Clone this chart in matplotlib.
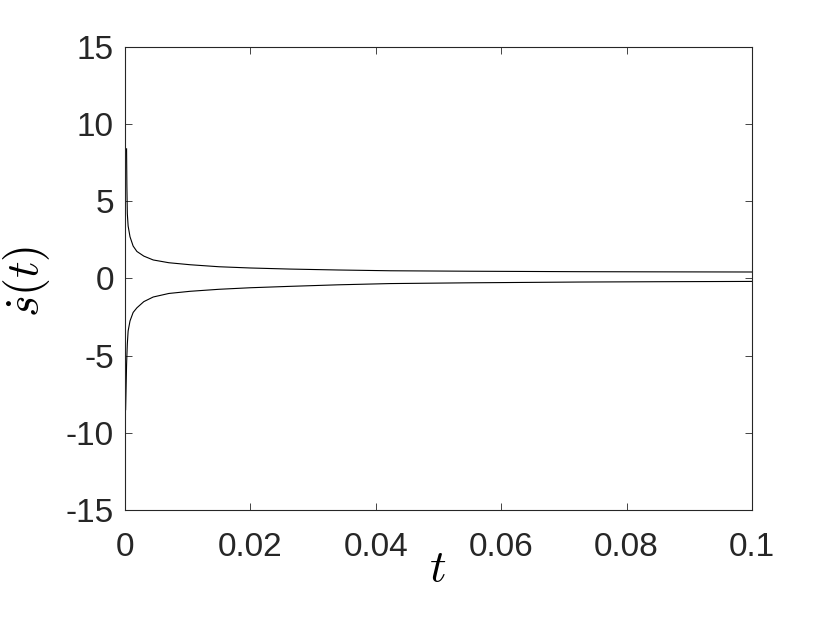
import matplotlib
matplotlib.use("Agg")
import matplotlib.pyplot as plt

t_up = [0.00025, 0.0003, 0.00037, 0.0005, 0.0008, 0.0013, 0.0019, 0.003,
        0.0045, 0.007, 0.0104, 0.015, 0.02, 0.0263, 0.034, 0.0423, 0.055,
        0.0726, 0.085, 0.1]
upper = [8.4, 6.0, 4.2, 3.4, 2.7, 2.1, 1.75, 1.45, 1.2, 1.02, 0.89, 0.76,
         0.68, 0.61, 0.55, 0.50, 0.47, 0.44, 0.43, 0.42]
t_low = [0.0001, 0.00025, 0.0003, 0.00037, 0.0005, 0.0008, 0.0013, 0.0019, 0.003,
         0.0045, 0.007, 0.0104, 0.015, 0.02, 0.0263, 0.034, 0.0423, 0.055,
         0.0726, 0.085, 0.1]
lower = [-8.5, -5.6, -5.0, -4.25, -3.4, -2.75, -2.2, -1.9, -1.5, -1.2, -0.97,
         -0.83, -0.7, -0.6, -0.51, -0.41, -0.33, -0.28, -0.23, -0.21, -0.19]

x_ticks = [0, 0.02, 0.04, 0.06, 0.08, 0.1]
x_tick_labels = ["0", "0.02", "0.04", "0.06", "0.08", "0.1"]
y_ticks = [-15, -10, -5, 0, 5, 10, 15]
y_tick_labels = ["-15", "-10", "-5", "0", "5", "10", "15"]

plt.rcParams["font.family"] = ["Liberation Sans", "DejaVu Sans"]
plt.rcParams["mathtext.fontset"] = "cm"

fig = plt.figure(figsize=(8.3, 6.23), dpi=100)
ax = fig.add_axes([0.1506, 0.1814, 0.7554, 0.7432])

ax.plot(t_up, upper, color="black", lw=0.8)
ax.plot(t_low, lower, color="black", lw=0.8)

ax.set_xlim(0, 0.1)
ax.set_ylim(-15, 15)
ax.set_xticks(x_ticks)
ax.set_xticklabels(x_tick_labels)
ax.set_yticks(y_ticks)
ax.set_yticklabels(y_tick_labels)
ax.tick_params(direction="in", top=True, right=True, labelsize=24,
               length=5, width=0.6, color="#262626", labelcolor="#262626")
ax.tick_params(axis="x", pad=16)
ax.tick_params(axis="y", pad=8)
for s in ax.spines.values():
    s.set_linewidth(0.8)
    s.set_color("#262626")

fig.text(438 / 830, 1 - 569 / 623, r"$t$", fontsize=33, ha="center", va="center")
fig.text(27 / 830, 1 - 281 / 623, r"$\dot{s}(t)$", fontsize=33, ha="center",
         va="center", rotation=90)

fig.savefig("out.png", dpi=100)
